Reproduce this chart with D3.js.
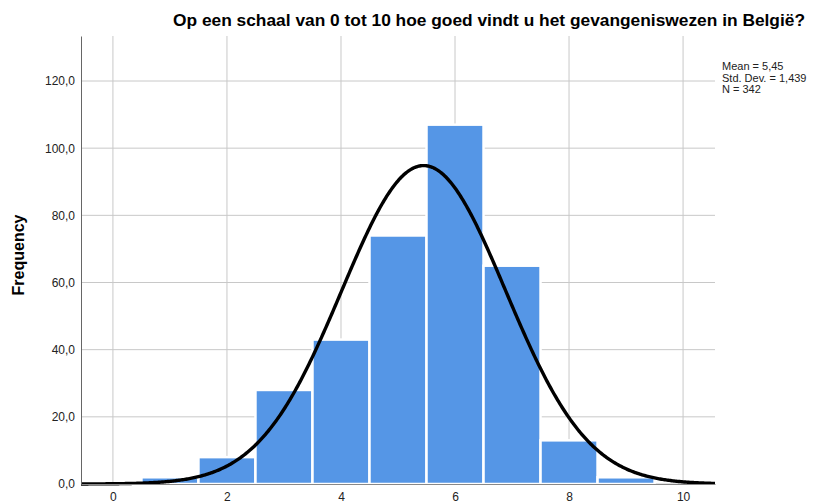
<!DOCTYPE html>
<html>
<head>
<meta charset="utf-8">
<script src="https://cdn.jsdelivr.net/npm/d3@7"></script>
<style>
  body { margin: 0; background: #fff; }
  text { font-family: "Liberation Sans", Arial, sans-serif; }
</style>
</head>
<body>
<div id="chart"></div>
<script>
// histogram bins (score value) and frequencies
const binCenters = [1, 2, 3, 4, 5, 6, 7, 8, 9];
const frequencies = [2, 8, 28, 43, 74, 107, 65, 13, 2];
const xTicks = [0, 2, 4, 6, 8, 10];
const yTicks = [0, 20, 40, 60, 80, 100, 120];
const statLines = ["Mean = 5,45", "Std. Dev. = 1,439", "N = 342"];
const mean = 5.45, stdDev = 1.439, nCases = 342;

const width = 818, height = 503,
margin = { top: 36, right: 103, bottom: 19, left: 81 },
innerWidth = width - margin.left - margin.right,
innerHeight = height - margin.top - margin.bottom;

const svg = d3.select('#chart').append('svg')
    .attr('width', width)
    .attr('height', height);

const x = d3.scaleLinear().domain([-0.56, 10.56]).range([0, innerWidth]);
const y = d3.scaleLinear().domain([0, 133.4]).range([innerHeight, 0]);

const g = svg.append('g')
    .attr('transform', 'translate(' + margin.left + ',' + margin.top + ')');

// grid
g.selectAll('.hgrid').data(yTicks).enter().append('line')
    .attr('x1', 0).attr('x2', innerWidth)
    .attr('y1', d => y(d)).attr('y2', d => y(d))
    .attr('stroke', '#c8c8c8').attr('stroke-width', 1);
g.selectAll('.vgrid').data(xTicks).enter().append('line')
    .attr('x1', d => x(d)).attr('x2', d => x(d))
    .attr('y1', 0).attr('y2', innerHeight)
    .attr('stroke', '#c8c8c8').attr('stroke-width', 1);

// bars
g.selectAll('rect').data(binCenters).enter().append('rect')
    .attr('x', d => x(d - 0.5))
    .attr('width', d => x(d + 0.5) - x(d - 0.5))
    .attr('y', (d, i) => y(frequencies[i]))
    .attr('height', (d, i) => y(0) - y(frequencies[i]))
    .attr('fill', '#5596e6')
    .attr('stroke', '#fff')
    .attr('stroke-width', 2.5);

// normal curve from the reported statistics
const pts = d3.range(-0.56, 10.57, 0.02).map(v => [v,
    nCases / (stdDev * Math.sqrt(2 * Math.PI)) * Math.exp(-0.5 * Math.pow((v - mean) / stdDev, 2))]);
g.append('path')
    .attr('d', d3.line().x(d => x(d[0])).y(d => y(d[1]))(pts))
    .attr('fill', 'none')
    .attr('stroke', '#000')
    .attr('stroke-width', 3.4);

// axes
const xAxis = g.append('g')
    .attr('transform', 'translate(0,' + innerHeight + ')')
    .call(d3.axisBottom(x).tickValues(xTicks).tickSize(0).tickPadding(8));
xAxis.select('.domain').attr('stroke', '#888');
xAxis.selectAll('text').attr('font-size', 12).attr('fill', '#222')
    .style('font-family', '"Liberation Sans", Arial, sans-serif');

const yAxis = g.append('g')
    .call(d3.axisLeft(y).tickValues(yTicks).tickSize(0).tickPadding(6)
        .tickFormat(d => d3.format('.1f')(d).replace('.', ',')));
yAxis.select('.domain').attr('stroke', '#666');
yAxis.selectAll('text').attr('font-size', 12).attr('fill', '#222')
    .style('font-family', '"Liberation Sans", Arial, sans-serif');

// title
svg.append('text')
    .attr('x', 173).attr('y', 26)
    .attr('font-size', 16.5).attr('font-weight', 'bold')
    .attr('textLength', 632).attr('lengthAdjust', 'spacingAndGlyphs')
    .attr('fill', '#000')
    .text('Op een schaal van 0 tot 10 hoe goed vindt u het gevangeniswezen in België?');

// y label
svg.append('text')
    .attr('transform', 'translate(24,255) rotate(-90)')
    .attr('text-anchor', 'middle')
    .attr('font-size', 16).attr('font-weight', 'bold')
    .text('Frequency');

// stats legend
svg.append('g').selectAll('text').data(statLines).enter().append('text')
    .attr('x', 722)
    .attr('y', (d, i) => 70 + i * 11.5)
    .attr('font-size', 11)
    .attr('fill', '#222')
    .text(d => d);
</script>
</body>
</html>
